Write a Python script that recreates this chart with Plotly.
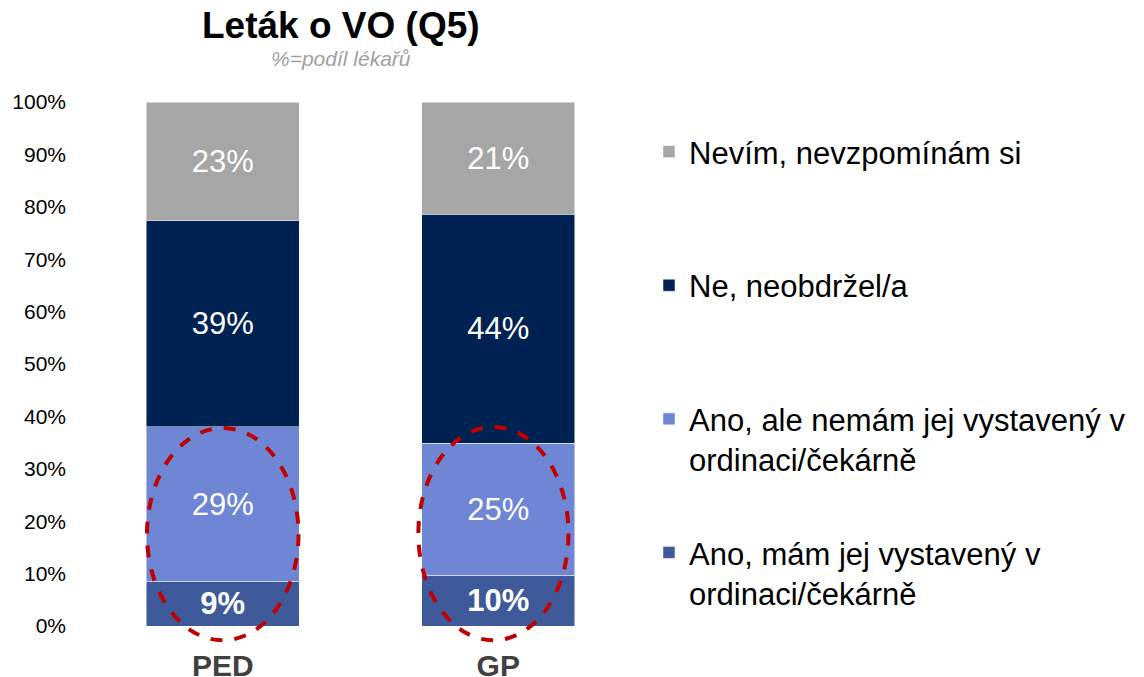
import plotly.graph_objects as go

categories = ["PED", "GP"]
series_names = [
    "Ano, mám jej vystavený v<br>ordinaci/čekárně",
    "Ano, ale nemám jej vystavený v<br>ordinaci/čekárně",
    "Ne, neobdržel/a<br> ",
    "Nevím, nevzpomínám si<br> ",
]
ano_vystaveny = [8.6, 9.7]
ano_nevystaveny = [29.4, 25.2]
ne_neobdrzel = [39.3, 43.7]
nevim = [22.7, 21.4]
series_values = [ano_vystaveny, ano_nevystaveny, ne_neobdrzel, nevim]
colors = ["#3F5A9B", "#6F86D4", "#002252", "#A6A6A6"]
y_ticks = [0, 10, 20, 30, 40, 50, 60, 70, 80, 90, 100]
y_tick_labels = [f"{v}%" for v in y_ticks]

# highlight ellipses (category-axis units, percent units)
ellipses = [
    dict(x0=-0.275, x1=0.275, y0=-2.7, y1=37.8),
    dict(x0=0.71, x1=1.255, y0=-2.7, y1=38.0),
]

FONT = "Liberation Sans, Arial, sans-serif"
W, H = 1136, 669  # page body adds an 8px margin

fig = go.Figure()
for i, (name, vals, col) in enumerate(zip(series_names, series_values, colors)):
    bold = i == 0
    fig.add_trace(go.Bar(
        x=categories, y=vals, name=name,
        marker=dict(color=col, line=dict(color="rgba(255,255,255,0.6)", width=0.8)),
        texttemplate="<b>%{y:.0f}%</b>" if bold else "%{y:.0f}%",
        textposition="inside", insidetextanchor="middle",
        textfont=dict(color="white", size=31, family=FONT),
        constraintext="none",
        legendgroup=f"g{i}",
        legendrank=10 - i,
        hoverinfo="skip",
    ))

for e in ellipses:
    fig.add_shape(type="circle", xref="x", yref="y", layer="above",
                  line=dict(color="#C00000", width=4, dash="dash"),
                  fillcolor="rgba(0,0,0,0)", **e)

title_x = (333 - 77) / 551
fig.add_annotation(text="<b>Leták o VO (Q5)</b>", xref="paper", yref="paper",
                   x=title_x, y=1, yshift=77, yanchor="middle", showarrow=False,
                   font=dict(size=37, color="black", family=FONT))
fig.add_annotation(text="<i>%=podíl lékařů</i>", xref="paper", yref="paper",
                   x=title_x, y=1, yshift=44, yanchor="middle", showarrow=False,
                   font=dict(size=21, color="#A0A0A0", family=FONT))

fig.update_layout(
    width=W, height=H,
    margin=dict(l=77, r=W - 628, t=94, b=32, autoexpand=False),
    barmode="stack", bargap=0.445,
    plot_bgcolor="white", paper_bgcolor="white",
    font=dict(family=FONT),
    showlegend=True,
    legend=dict(
        traceorder="grouped", tracegroupgap=50,
        xref="container", yref="container",
        x=641 / W, xanchor="left", y=1 - 117 / H, yanchor="top",
        valign="top", maxheight=640,
        font=dict(size=31, color="black", family=FONT),
        bgcolor="rgba(0,0,0,0)",
    ),
    xaxis=dict(
        range=[-0.5, 1.5], showgrid=False, showline=False, ticks="",
        tickfont=dict(size=30, color="#404040", family=FONT, weight="bold"),
    ),
    yaxis=dict(
        range=[-3.6, 100], tickvals=y_ticks, ticktext=y_tick_labels,
        showgrid=False, zeroline=False, showline=False, ticks="",
        ticklabelstandoff=18,
        tickfont=dict(size=21, color="black", family=FONT),
    ),
)

fig.write_html("out.html")
